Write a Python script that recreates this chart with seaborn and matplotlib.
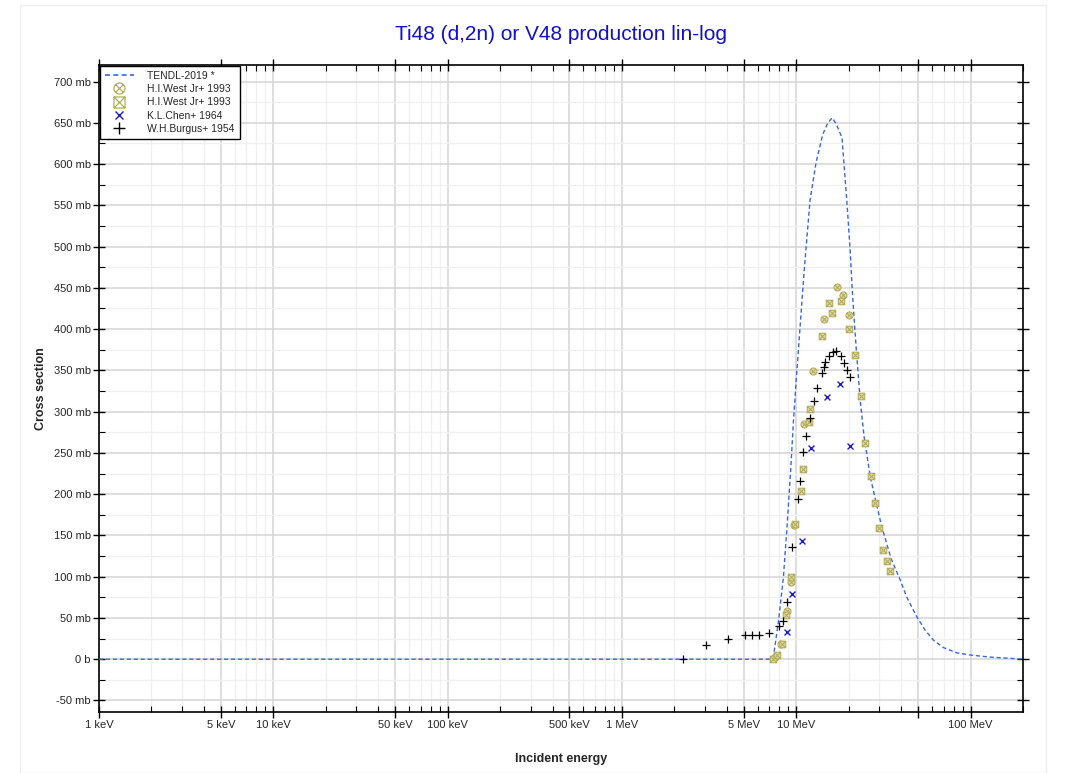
import numpy as np
import pandas as pd
import matplotlib
matplotlib.use("Agg")
import matplotlib.pyplot as plt
import seaborn as sns
from matplotlib.path import Path
from matplotlib.lines import Line2D
from matplotlib.ticker import FixedLocator, FuncFormatter, MultipleLocator
from matplotlib.patches import Rectangle

# ---------------- data (energies in MeV, cross sections in mb) ----------------
tendl_e = [0.001, 1.0, 5.0, 7.2, 7.4, 7.9, 8.45, 8.85, 9.3, 9.65, 10.0, 10.5, 11.1, 12.0,
           13.0, 14.2, 15.2, 16.1, 17.0, 18.3, 19.5, 20.4, 21.1, 22.2, 23.3, 24.5, 26.6,
           28.7, 31.0, 35.0, 39.5, 43.1, 49.3, 55.0, 61.3, 70.0, 83.6, 100.0, 130.0, 200.0]
tendl_xs = [0.0, 0.0, 0.0, 0.0, 3.0, 45.0, 100.0, 160.0, 230.0, 290.0, 338.0, 400.0, 470.0, 556.0,
            602.0, 636.0, 650.0, 656.0, 648.0, 632.0, 556.0, 495.0, 437.0, 370.0, 313.0, 270.0, 221.0,
            190.0, 160.0, 122.0, 96.0, 75.0, 51.0, 35.0, 23.0, 14.0, 7.6, 5.0, 2.5, 0.0]

west1_e = [7.54, 8.23, 8.84, 9.36, 9.70, 11.1, 12.5, 14.35, 17.2, 18.6, 19.95]
west1_xs = [2.8, 19.0, 58.5, 93.6, 163.0, 284.5, 349.0, 412.0, 450.7, 440.7, 417.3]

west2_e = [7.40, 7.72, 8.28, 8.76, 9.36, 9.85, 10.6, 10.9, 11.8, 12.03, 13.97, 15.5, 16.0,
           18.05, 19.95, 21.7, 23.5, 24.96, 26.7, 28.3, 29.8, 31.4, 33.1, 34.6]
west2_xs = [0.0, 4.8, 18.2, 54.0, 99.0, 163.4, 203.8, 230.0, 287.0, 303.0, 391.4, 431.4, 420.0,
            434.0, 400.4, 368.0, 318.4, 261.5, 221.5, 189.2, 159.0, 132.3, 118.6, 107.0]

chen_e = [8.80, 9.52, 10.78, 12.15, 14.93, 17.8, 20.4]
chen_xs = [33.0, 78.7, 143.7, 256.0, 317.6, 333.8, 257.9]

burgus_e = [2.24, 3.05, 4.06, 5.08, 5.54, 6.08, 6.97, 7.99, 8.45, 8.88, 9.48, 10.2, 10.5,
            10.9, 11.4, 11.98, 12.57, 13.1, 13.97, 14.35, 14.7, 15.5, 16.2, 16.97, 18.05,
            18.77, 19.6, 20.45]
burgus_xs = [0.0, 16.6, 24.6, 29.4, 29.9, 29.9, 32.3, 40.8, 46.8, 69.4, 136.0, 194.0, 216.0,
             250.6, 271.0, 292.6, 312.7, 329.0, 346.6, 353.5, 360.0, 366.8, 372.0, 373.0, 366.8,
             358.7, 350.7, 341.4]

title_text = "Ti48 (d,2n) or V48 production lin-log"
x_major = [0.001, 0.005, 0.01, 0.05, 0.1, 0.5, 1, 5, 10, 50, 100]
x_labels = ["1 keV", "5 keV", "10 keV", "50 keV", "100 keV", "500 keV", "1 MeV", "5 MeV",
            "10 MeV", "", "100 MeV"]

# ---------------- style ----------------
sns.set_theme(style="white")
plt.rcParams['font.family'] = ['Liberation Sans', 'DejaVu Sans']

fig = plt.figure(figsize=(10.71, 7.73), dpi=100)
ax = fig.add_axes([99/1071, 1 - 712/773, (1023-99)/1071, (712-65)/773])

# faint outer frame
fig.patches.append(Rectangle((20/1071, 0), (1046-20)/1071, 1 - 5/773, transform=fig.transFigure,
                             fill=False, edgecolor="#eeeeee", linewidth=1, zorder=-10))

olive_edge = "#b5ae60"
olive_face = "#dedaa6"
verts_c = Path.unit_circle()
d = 0.70
xlines = Path([[-d, -d], [d, d], [-d, d], [d, -d]],
              [Path.MOVETO, Path.LINETO, Path.MOVETO, Path.LINETO])
circ_x = Path.make_compound_path(verts_c, xlines)
sq = Path([[-1, -1], [1, -1], [1, 1], [-1, 1], [-1, -1]],
          [Path.MOVETO, Path.LINETO, Path.LINETO, Path.LINETO, Path.CLOSEPOLY])
xl2 = Path([[-1, -1], [1, 1], [-1, 1], [1, -1]],
           [Path.MOVETO, Path.LINETO, Path.MOVETO, Path.LINETO])
sq_x = Path.make_compound_path(sq, xl2)

tendl_color = "#3a66e0"
sns.lineplot(x=tendl_e, y=tendl_xs, ax=ax, color=tendl_color, linestyle=(0, (3, 2)),
             linewidth=1.0, estimator=None, sort=False, zorder=3)
sns.scatterplot(x=west1_e, y=west1_xs, ax=ax, marker=circ_x, s=26, facecolor=olive_face,
                edgecolor=olive_edge, linewidth=0.8, zorder=4)
sns.scatterplot(x=west2_e, y=west2_xs, ax=ax, marker=sq_x, s=22, facecolor=olive_face,
                edgecolor=olive_edge, linewidth=0.8, zorder=4)
sns.scatterplot(x=chen_e, y=chen_xs, ax=ax, marker="x", s=18, color="#1a1acc",
                linewidth=1.0, zorder=5)
sns.scatterplot(x=burgus_e, y=burgus_xs, ax=ax, marker="+", s=34, color="black",
                linewidth=0.9, zorder=5)

ax.set_xscale("log")
ax.set_xlim(0.001, 200)
ax.set_ylim(-64, 720)

# x ticks
ax.xaxis.set_major_locator(FixedLocator(x_major))
ax.set_xticklabels(x_labels)
minor = []
for dec in [0.001, 0.01, 0.1, 1, 10, 100]:
    for m in [2, 3, 4, 6, 7, 8, 9]:
        v = dec * m
        if v <= 200:
            minor.append(v)
ax.xaxis.set_minor_locator(FixedLocator(minor))

# y ticks
ax.yaxis.set_major_locator(MultipleLocator(50))
ax.yaxis.set_minor_locator(MultipleLocator(25))
ax.yaxis.set_major_formatter(FuncFormatter(lambda v, p: "0 b" if abs(v) < 1e-9 else f"{int(round(v))} mb"))

ax.grid(which="major", color="#d4d4d4", linewidth=1.1)
ax.grid(which="minor", color="#f0f0f0", linewidth=1.0)
ax.set_axisbelow(True)

ax.tick_params(which="major", direction="inout", length=8, width=1, color="black",
               labelsize=8, top=True, right=True, bottom=True, left=True, pad=2)
ax.tick_params(which="minor", direction="in", length=4, width=0.8, color="black",
               top=True, right=True, bottom=True, left=True)
for s in ax.spines.values():
    s.set_color("black")
    s.set_linewidth(1.2)

ax.set_xlabel("Incident energy", fontsize=9, fontweight="bold", labelpad=16)
ax.set_ylabel("Cross section", fontsize=9, fontweight="bold", labelpad=5)
fig.text(0.5 * (99 + 1023) / 1071, 1 - 34/773, title_text, color="#1010cc", fontsize=15,
         ha="center", va="center")

handles = [
    Line2D([], [], color=tendl_color, linestyle=(0, (3, 2)), linewidth=1.2),
    Line2D([], [], linestyle="none", marker=circ_x, markersize=8, markerfacecolor="none",
           markeredgecolor=olive_edge, markeredgewidth=0.9),
    Line2D([], [], linestyle="none", marker=sq_x, markersize=8, markerfacecolor="none",
           markeredgecolor=olive_edge, markeredgewidth=0.9),
    Line2D([], [], linestyle="none", marker="x", markersize=6, color="#1a1acc", markeredgewidth=1),
    Line2D([], [], linestyle="none", marker="+", markersize=9, color="black", markeredgewidth=1),
]
labels = ["TENDL-2019 *", "H.I.West Jr+ 1993", "H.I.West Jr+ 1993", "K.L.Chen+ 1964",
          "W.H.Burgus+ 1954"]
leg = ax.legend(handles, labels, loc="upper left", fontsize=7.5, frameon=True, fancybox=False,
                borderaxespad=0.1, handlelength=2.8, labelspacing=0.32, borderpad=0.45,
                handletextpad=1.3)
leg.get_frame().set_edgecolor("black")
leg.get_frame().set_linewidth(1.0)
leg.get_frame().set_alpha(1)

fig.savefig("out.png", dpi=100)
